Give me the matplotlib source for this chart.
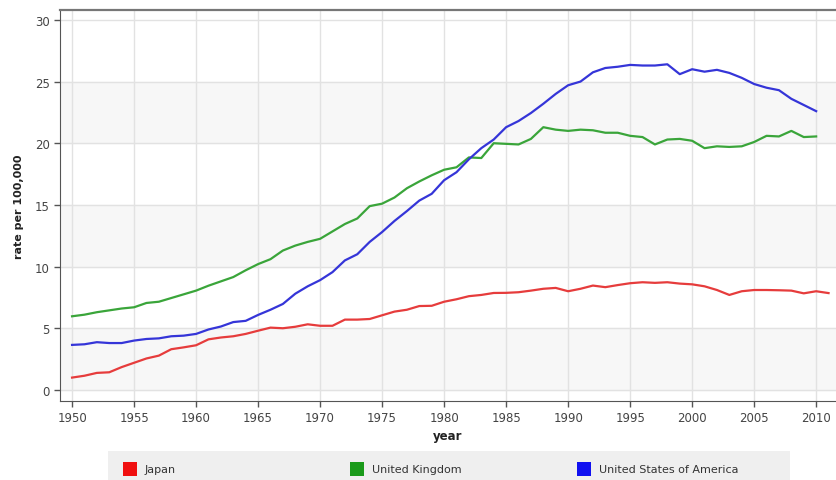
import numpy as np
import matplotlib.pyplot as plt
from matplotlib.patches import Rectangle

# suicide rate per 100,000
years = list(range(1950, 2012))

japan = [1.0, 1.15, 1.38, 1.43, 1.85, 2.2, 2.55, 2.78, 3.3, 3.45,
         3.62, 4.1, 4.25, 4.35, 4.54, 4.8, 5.05, 5.0, 5.12, 5.32,
         5.2, 5.2, 5.7, 5.7, 5.75, 6.05, 6.35, 6.5, 6.8, 6.82,
         7.15, 7.35, 7.6, 7.7, 7.86, 7.87, 7.92, 8.05, 8.2, 8.27,
         8.0, 8.2, 8.46, 8.33, 8.5, 8.65, 8.73, 8.68, 8.73, 8.62,
         8.56, 8.4, 8.1, 7.7, 8.0, 8.1, 8.1, 8.08, 8.05, 7.83,
         8.0, 7.85]

uk = [5.97, 6.1, 6.3, 6.45, 6.6, 6.7, 7.05, 7.15, 7.45, 7.75,
      8.05, 8.45, 8.8, 9.15, 9.7, 10.2, 10.6, 11.3, 11.7, 12.0,
      12.25, 12.85, 13.45, 13.9, 14.9, 15.1, 15.6, 16.35, 16.9, 17.4,
      17.85, 18.05, 18.85, 18.8, 20.0, 19.95, 19.9, 20.35, 21.3, 21.1,
      21.0, 21.1, 21.05, 20.85, 20.85, 20.6, 20.5, 19.9, 20.3, 20.35,
      20.2, 19.6, 19.75, 19.7, 19.75, 20.1, 20.6, 20.55, 21.0, 20.5,
      20.55]

usa = [3.65, 3.7, 3.87, 3.8, 3.8, 4.0, 4.13, 4.18, 4.35, 4.4,
       4.54, 4.9, 5.14, 5.5, 5.6, 6.08, 6.5, 6.97, 7.8, 8.4,
       8.9, 9.55, 10.5, 11.0, 12.0, 12.8, 13.7, 14.5, 15.35, 15.9,
       17.0, 17.65, 18.7, 19.6, 20.3, 21.3, 21.8, 22.45, 23.2, 24.0,
       24.7, 25.0, 25.75, 26.1, 26.2, 26.35, 26.3, 26.3, 26.4, 25.6,
       26.0, 25.8, 25.95, 25.7, 25.3, 24.8, 24.5, 24.3, 23.6, 23.1,
       22.6]

names = ['Japan', 'United Kingdom', 'United States of America']
line_colors = ['#e63c3c', '#3aa53a', '#3535d8']
key_colors = ['#f01010', '#1a9a1a', '#1010f0']

fig = plt.figure(figsize=(8.36, 4.81), dpi=100)
ax = fig.add_axes([0.0718, 0.1642, 0.9282, 0.8129])

# alternating light bands
for lo in [0, 10, 20]:
    ax.axhspan(lo, lo + 5, color='#f7f7f7', zorder=0)

ax.grid(True, color='#e2e2e2', linewidth=1.0, zorder=1)
ax.set_axisbelow(True)

series = [japan, uk, usa]
for vals, c, n in zip(series, line_colors, names):
    ax.plot(years[:len(vals)], vals, color=c, linewidth=1.6, label=n, zorder=3)

ax.set_xlim(1949.03, 2011.6)
ax.set_ylim(-0.9, 30.8)
ax.set_xticks(range(1950, 2011, 5))
ax.set_yticks(range(0, 31, 5))

for s in ['right']:
    ax.spines[s].set_visible(False)
ax.spines['top'].set_color('#777777')
ax.spines['top'].set_linewidth(1.6)
ax.spines['left'].set_color('#555555')
ax.spines['bottom'].set_color('#555555')
ax.tick_params(axis='both', colors='#555555', labelcolor='#444444',
               labelsize=8.5, length=4, width=1.0)

ax.set_xlabel('year', fontsize=8.5, fontweight='bold', color='#222222', labelpad=3)
ax.set_ylabel('rate per 100,000', fontsize=8, fontweight='bold', color='#222222', labelpad=8)

# legend strip at the bottom
fig.add_artist(Rectangle((108 / 836, 0), (790 - 108) / 836, 29 / 481,
                         transform=fig.transFigure, facecolor='#efefef',
                         edgecolor='none', zorder=0))
key_x = [123, 350, 577]
for x0, c, n in zip(key_x, key_colors, names):
    fig.add_artist(Rectangle((x0 / 836, 4 / 481), 14 / 836, 14 / 481,
                             transform=fig.transFigure, facecolor=c,
                             edgecolor='none'))
    fig.text((x0 + 22) / 836, 11 / 481, n, fontsize=8, color='#333333',
             va='center', ha='left')

fig.savefig('out.png', dpi=100)
